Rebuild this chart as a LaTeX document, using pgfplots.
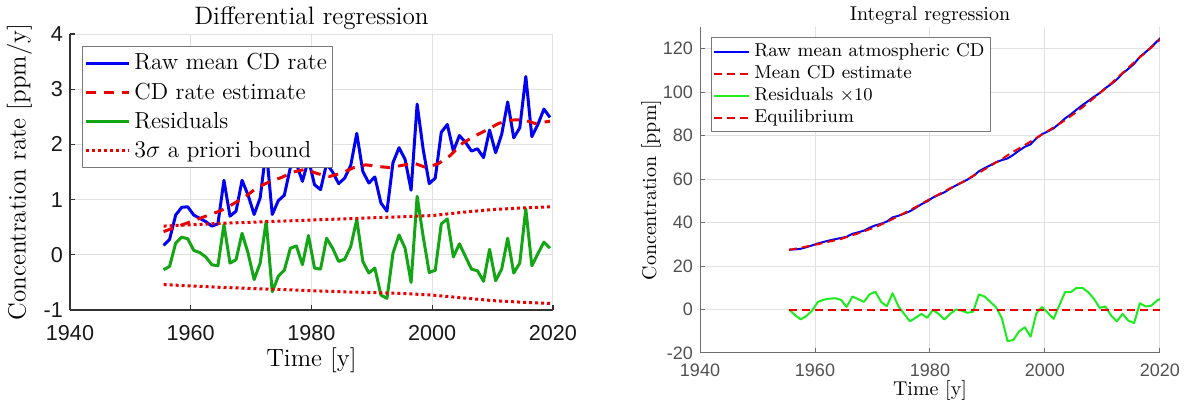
\documentclass[border=0pt]{standalone}
\usepackage{fontspec}
\usepackage{pgfplots}
\usepackage{pgfplotstable}
\pgfplotsset{compat=1.18}
\newfontfamily\ticksans{Liberation Sans}
\definecolor{mblue}{RGB}{0,0,245}
\definecolor{mred}{RGB}{235,0,0}
\definecolor{mgreen}{RGB}{20,165,20}
\definecolor{bgreen}{RGB}{30,235,30}
\definecolor{axisgray}{RGB}{50,50,50}
\definecolor{raxisgray}{RGB}{110,110,110}
\definecolor{gridgray}{RGB}{225,225,225}
\definecolor{ticklbl}{RGB}{25,25,25}
\definecolor{rticklbl}{RGB}{80,80,80}
\definecolor{legendgray}{RGB}{120,120,120}

\pgfplotstableread{
year raw res
1955.5 0.17 -0.27
1956.5 0.28 -0.21
1957.5 0.72 0.21
1958.5 0.86 0.32
1959.5 0.87 0.29
1960.5 0.72 0.08
1961.5 0.66 0.04
1962.5 0.60 -0.04
1963.5 0.52 -0.18
1964.5 0.56 -0.20
1965.5 1.35 0.55
1966.5 0.70 -0.15
1967.5 0.79 -0.09
1968.5 1.35 0.39
1969.5 1.08 0.03
1970.5 0.73 -0.45
1971.5 1.03 -0.15
1972.5 1.92 0.61
1973.5 0.73 -0.67
1974.5 0.98 -0.39
1975.5 1.08 -0.28
1976.5 1.58 0.12
1977.5 1.65 0.16
1978.5 1.33 -0.18
1979.5 1.73 0.35
1980.5 1.27 -0.24
1981.5 1.18 -0.26
1982.5 1.65 0.30
1983.5 1.50 0.12
1984.5 1.29 -0.12
1985.5 1.39 -0.08
1986.5 1.62 0.15
1987.5 2.20 0.64
1988.5 1.51 -0.12
1989.5 1.30 -0.33
1990.5 1.41 -0.24
1991.5 0.94 -0.73
1992.5 0.79 -0.79
1993.5 1.67 0.03
1994.5 1.94 0.36
1995.5 1.73 0.12
1996.5 1.17 -0.50
1997.5 2.73 1.06
1998.5 1.91 0.33
1999.5 1.29 -0.32
2000.5 1.39 -0.28
2001.5 2.22 0.56
2002.5 2.36 0.65
2003.5 1.88 -0.04
2004.5 2.16 0.20
2005.5 2.04 -0.03
2006.5 1.88 -0.26
2007.5 1.92 -0.29
2008.5 1.76 -0.48
2009.5 2.26 0.10
2010.5 1.85 -0.47
2011.5 2.18 -0.26
2012.5 2.77 0.30
2013.5 2.12 -0.33
2014.5 2.30 -0.15
2015.5 3.23 0.83
2016.5 2.14 -0.20
2017.5 2.36 0.02
2018.5 2.64 0.23
2019.5 2.49 0.12
}\ratetable

\pgfplotstableread{
year est
1955.5 0.42
1958 0.52
1960 0.60
1963 0.72
1965 0.80
1967 0.92
1969 1.05
1971 1.22
1973 1.32
1975 1.40
1977 1.50
1979 1.55
1981 1.47
1983 1.42
1985 1.48
1987 1.58
1989 1.63
1991 1.60
1993 1.58
1995 1.62
1997 1.66
1999 1.58
2001 1.65
2003 1.80
2005 2.02
2007 2.15
2009 2.26
2011 2.38
2013 2.44
2015 2.45
2017 2.38
2019.5 2.42
}\esttable

\pgfplotstableread{
year up lo
1955.5 0.52 -0.54
1965 0.57 -0.59
1975 0.61 -0.63
1985 0.65 -0.67
1995 0.69 -0.70
2000 0.71 -0.73
2005 0.77 -0.78
2010 0.82 -0.83
2015 0.85 -0.86
2019.5 0.87 -0.88
}\boundtable

\pgfplotstableread{
year raw est res
1955.5 27.50 27.50 0
1956.5 27.67 27.92 -2.5
1957.5 27.95 28.40 -4.5
1958.5 28.67 28.97 -3.0
1959.5 29.53 29.58 -0.5
1960.5 30.40 30.05 3.5
1961.5 31.12 30.67 4.5
1962.5 31.78 31.28 5.0
1963.5 32.38 31.86 5.2
1964.5 32.90 32.45 4.5
1965.5 33.46 33.34 1.2
1966.5 34.81 34.21 6.0
1967.5 35.51 35.03 4.8
1968.5 36.30 35.95 3.5
1969.5 37.65 36.95 7.0
1970.5 38.73 37.91 8.2
1971.5 39.46 39.11 3.5
1972.5 40.49 40.34 1.5
1973.5 42.41 41.66 7.5
1974.5 43.14 42.99 1.5
1975.5 44.12 44.32 -2.0
1976.5 45.20 45.74 -5.4
1977.5 46.78 47.16 -3.8
1978.5 48.43 48.63 -2.0
1979.5 49.76 50.14 -3.8
1980.5 51.49 51.51 -0.2
1981.5 52.76 52.96 -2.0
1982.5 53.94 54.40 -4.6
1983.5 55.59 55.79 -2.0
1984.5 57.09 57.09 0.0
1985.5 58.38 58.43 -0.5
1986.5 59.77 59.92 -1.5
1987.5 61.39 61.49 -1.0
1988.5 63.59 62.90 6.9
1989.5 65.10 64.50 6.0
1990.5 66.40 66.05 3.5
1991.5 67.81 67.71 1.0
1992.5 68.75 69.15 -4.0
1993.5 69.54 71.00 -14.6
1994.5 71.21 72.61 -14.0
1995.5 73.15 74.15 -10.0
1996.5 74.88 75.70 -8.2
1997.5 76.05 77.30 -12.5
1998.5 78.78 78.95 -1.7
1999.5 80.69 80.58 1.1
2000.5 81.98 82.13 -1.5
2001.5 83.37 83.80 -4.3
2002.5 85.59 85.39 2.0
2003.5 87.95 87.15 8.0
2004.5 89.83 89.03 8.0
2005.5 91.99 90.99 10.0
2006.5 94.03 93.03 10.0
2007.5 95.91 95.11 8.0
2008.5 97.83 97.33 5.0
2009.5 99.59 99.51 0.8
2010.5 101.85 101.71 1.4
2011.5 103.70 103.98 -2.8
2012.5 105.88 106.42 -5.4
2013.5 108.65 108.85 -2.0
2014.5 110.77 111.28 -5.1
2015.5 113.07 113.69 -6.2
2016.5 116.30 116.01 2.9
2017.5 118.44 118.30 1.4
2018.5 120.80 120.62 1.8
2019.5 123.44 123.02 4.2
2020.5 125.93 125.39 5.4
}\conctable

\begin{document}
\begin{tikzpicture}
\path[use as bounding box] (0,0) rectangle (595pt,203.5pt);

% ---------------- Left: differential regression
\begin{axis}[
  at={(35pt,48.5pt)}, anchor=south west,
  scale only axis, width=241.5pt, height=138pt,
  xmin=1940, xmax=2020, ymin=-1, ymax=4,
  xtick={1940,1960,1980,2000,2020},
  xticklabels={1940,1960,1980,2000,2020},
  ytick={-1,0,1,2,3,4},
  yticklabels={-1,0,1,2,3,4},
  axis x line*=bottom, axis y line*=left,
  axis line style={-, draw=axisgray, line width=0.6pt},
  grid=major, major grid style={draw=gridgray, line width=0.5pt},
  tick align=inside, major tick length=2.5pt,
  tick style={draw=axisgray, line width=0.6pt},
  ticklabel style={font=\ticksans\fontsize{10.8}{12}\selectfont, text=ticklbl},
  xticklabel style={yshift=-4pt},
  every axis title shift=0pt,
  title={Differential regression},
  title style={font=\fontsize{12.6}{14}\selectfont, at={(0.5,1)}, anchor=base, yshift=5pt},
  xlabel={Time [y]}, ylabel={Concentration rate [ppm/y]},
  label style={font=\fontsize{12.5}{14}\selectfont},
  xlabel shift=-3pt, ylabel shift=-1pt,
  legend style={at={(0.0248,0.9565)}, anchor=north west, draw=legendgray,
    fill=white, font=\fontsize{11.6}{14.2}\selectfont, inner xsep=1pt, inner ysep=1.5pt,
    row sep=1pt},
  legend cell align=left,
  legend image code/.code={\draw[#1] (0pt,0pt) -- (21.5pt,0pt);},
  line join=round,
]
\addplot[mblue, line width=1.5pt] table[x=year, y=raw] {\ratetable};
\addlegendentry{Raw mean CD rate}
\addplot[mred, line width=1.5pt, dash pattern=on 5pt off 4pt] table[x=year, y=est] {\esttable};
\addlegendentry{CD rate estimate}
\addplot[mgreen, line width=1.5pt] table[x=year, y=res] {\ratetable};
\addlegendentry{Residuals}
\addplot[mred, line width=1.5pt, dash pattern=on 1.5pt off 1.5pt] table[x=year, y=up] {\boundtable};
\addlegendentry{$3\sigma$ a priori bound}
\addplot[mred, line width=1.5pt, dash pattern=on 1.5pt off 1.5pt, forget plot] table[x=year, y=lo] {\boundtable};
\end{axis}

% ---------------- Right: integral regression
\begin{axis}[
  at={(350pt,27pt)}, anchor=south west,
  scale only axis, width=230pt, height=163pt,
  xmin=1940, xmax=2020, ymin=-20, ymax=130,
  xtick={1940,1960,1980,2000,2020},
  xticklabels={1940,1960,1980,2000,2020},
  ytick={-20,0,20,40,60,80,100,120},
  yticklabels={-20,0,20,40,60,80,100,120},
  axis x line*=bottom, axis y line*=left,
  axis line style={-, draw=raxisgray, line width=0.5pt},
  grid=major, major grid style={draw=gridgray, line width=0.5pt},
  tick align=inside, major tick length=2.5pt,
  tick style={draw=raxisgray, line width=0.5pt},
  ticklabel style={font=\ticksans\fontsize{9}{10}\selectfont, text=rticklbl},
  xticklabel style={yshift=-2pt},
  every axis title shift=0pt,
  title={Integral regression},
  title style={font=\fontsize{10}{12}\selectfont, at={(0.5,1)}, anchor=base, yshift=3.3pt},
  xlabel={Time [y]}, ylabel={Concentration [ppm]},
  label style={font=\fontsize{10}{12}\selectfont},
  xlabel shift=-5pt, ylabel shift=-6pt,
  legend style={at={(0.0239,0.969)}, anchor=north west, draw=legendgray,
    fill=white, font=\fontsize{9.3}{11.5}\selectfont, inner xsep=1pt, inner ysep=1pt,
    row sep=-1pt},
  legend cell align=left,
  legend image code/.code={\draw[#1] (0pt,0pt) -- (17.5pt,0pt);},
  line join=round,
]
\addplot[mblue, line width=1pt] table[x=year, y=raw] {\conctable};
\addlegendentry{Raw mean atmospheric CD}
\addplot[mred, line width=1pt, dash pattern=on 4pt off 2.5pt] table[x=year, y=est] {\conctable};
\addlegendentry{Mean CD estimate}
\addplot[bgreen, line width=1pt] table[x=year, y=res] {\conctable};
\addlegendentry{Residuals $\times 10$}
\addplot[mred, line width=1pt, dash pattern=on 4pt off 2.5pt] coordinates {(1955.5,0) (2020.5,0)};
\addlegendentry{Equilibrium}
\end{axis}
\end{tikzpicture}
\end{document}
